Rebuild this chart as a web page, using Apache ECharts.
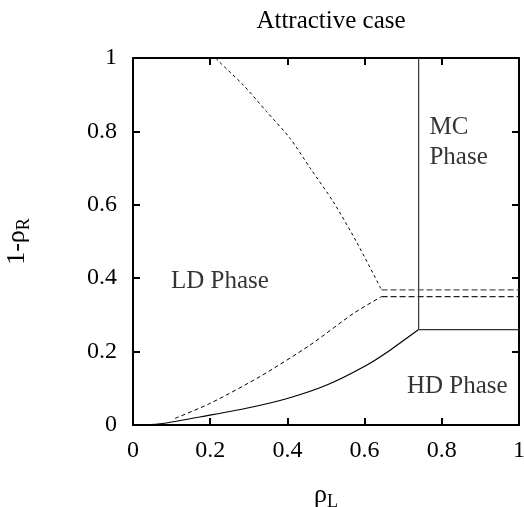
<!DOCTYPE html>
<html>
<head>
<meta charset="utf-8">
<script src="https://cdn.jsdelivr.net/npm/echarts@6/dist/echarts.min.js"></script>
<style>html,body{margin:0;padding:0;background:#fff}#c{width:524px;height:507px}</style>
</head>
<body>
<div id="c"></div>
<script>
// Solid boundary (curve from origin to the triple point, then MC borders)
var solidCurve = [[0,0],[0.07,0.003],[0.2,0.027],[0.3,0.047],[0.402,0.073],[0.502,0.109],[0.605,0.163],[0.666,0.204],[0.74,0.26]];
var mcVertical = [[0.74,0.26],[0.74,1]];
var mcHorizontal = [[0.74,0.26],[1,0.26]];
// Dashed curves
var upperDashed = [[0.215,1],[0.221,0.992],[0.286,0.926],[0.346,0.854],[0.407,0.781],[0.459,0.700],[0.519,0.608],[0.579,0.499],[0.644,0.368]];
var lowerDashed = [[0.109,0.018],[0.2,0.059],[0.329,0.132],[0.459,0.218],[0.571,0.304],[0.644,0.350]];
var dashTop = [[0.644,0.368],[1,0.368]];
var dashBottom = [[0.644,0.350],[1,0.350]];
// Phase labels
var phaseLabels = [
  {name:'LD Phase', value:[0.225,0.39]},
  {name:'MC\nPhase', value:[0.768,0.77], label:{align:'left'}},
  {name:'HD Phase', value:[0.84,0.104]}
];

var FONT = 'Liberation Serif';
var chart = echarts.init(document.getElementById('c'));
function lineSeries(data, type, width, color, smooth) {
  return {type:'line', data:data, showSymbol:false, symbol:'none', smooth:smooth||false, silent:true,
    lineStyle:{color:color||'#000', width:width||1, type:type}, z:3};
}
function axisCommon() {
  return {
    type:'value', min:0, max:1, interval:0.2,
    splitLine:{show:false},
    axisLine:{show:true, onZero:false, lineStyle:{color:'#000', width:2}},
    axisTick:{show:true, inside:true, length:7, lineStyle:{color:'#000', width:2}}
  };
}
var fmt = function(v){return String(+v.toFixed(1));};
chart.setOption({
  animation:false,
  backgroundColor:'#fff',
  title:{text:'Attractive case', left:326, top:4, textAlign:'center',
    textStyle:{fontFamily:FONT, fontSize:25, fontWeight:'normal', color:'#000'}},
  grid:{left:133, right:5, top:58, bottom:82, outerBoundsMode:'none', containLabel:false},
  xAxis:[
    Object.assign(axisCommon(), {position:'bottom',
      name:'{a|ρ}{b|L}', nameLocation:'middle', nameGap:54,
      nameTextStyle:{rich:{a:{fontFamily:FONT, fontSize:26, color:'#000'}, b:{fontFamily:FONT, fontSize:18, color:'#000', padding:[14,0,0,0]}}},
      axisLabel:{fontFamily:FONT, fontSize:24, color:'#000', margin:14, formatter:fmt}}),
    Object.assign(axisCommon(), {position:'top', axisLabel:{show:false}})
  ],
  yAxis:[
    Object.assign(axisCommon(), {position:'left',
      name:'{a|1-ρ}{b|R}', nameLocation:'middle', nameGap:100, nameRotate:90,
      nameTextStyle:{rich:{a:{fontFamily:FONT, fontSize:26, color:'#000'}, b:{fontFamily:FONT, fontSize:18, color:'#000', padding:[14,0,0,0]}}},
      axisLabel:{fontFamily:FONT, fontSize:24, color:'#000', margin:16, formatter:fmt}}),
    Object.assign(axisCommon(), {position:'right', axisLabel:{show:false}})
  ],
  series:[
    lineSeries(solidCurve,'solid',1.2,'#000',0.25),
    lineSeries(mcVertical,'solid',1.2,'#333'),
    lineSeries(mcHorizontal,'solid',1.2,'#333'),
    lineSeries(upperDashed,[3,3],1,'#000',0.25),
    lineSeries(lowerDashed,[4,3],1,'#000',0.25),
    lineSeries(dashTop,[6,3],1.2,'#555'),
    lineSeries(dashBottom,[6,3],1.2,'#222'),
    {type:'scatter', data:phaseLabels, symbolSize:0, silent:true, z:4,
      label:{show:true, position:'inside', formatter:function(p){return p.name;},
        fontFamily:FONT, fontSize:25, color:'#000', lineHeight:30, align:'center', verticalAlign:'middle'}}
  ]
});
</script>
</body>
</html>
